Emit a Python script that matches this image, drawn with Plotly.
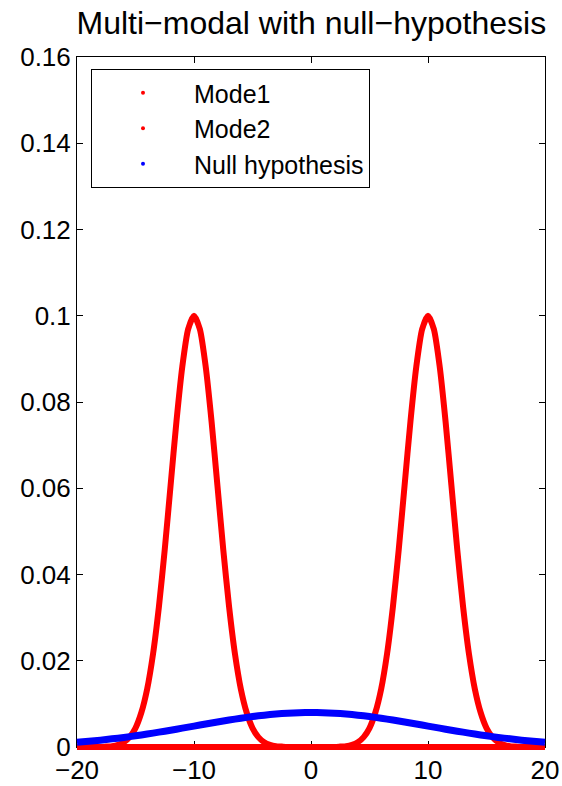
import plotly.graph_objects as go

# Values
mode1_x = [-20, -18.0, -17.5, -17.0, -16.5, -16.0, -15.5, -15.0, -14.5, -14.0, -13.5, -13.0, -12.5,
           -12.0, -11.5, -11.0, -10.5, -10.0, -9.5, -9.0, -8.5, -8.0, -7.5, -7.0, -6.5, -6.0,
           -5.5, -5.0, -4.5, -4.0, -3.5, -3.0, -2.5, -2.0, 20]
mode1_y = [0.0, 0.0, 0.0001, 0.0002, 0.0005, 0.0011, 0.0023, 0.0044, 0.0080, 0.0135, 0.0216, 0.0325, 0.0458,
           0.0607, 0.0755, 0.0882, 0.0969, 0.1000, 0.0969, 0.0882, 0.0755, 0.0607, 0.0458, 0.0325, 0.0216, 0.0135,
           0.0080, 0.0044, 0.0023, 0.0011, 0.0005, 0.0002, 0.0001, 0.0, 0.0]

mode2_x = [-20, 2.0, 2.5, 3.0, 3.5, 4.0, 4.5, 5.0, 5.5, 6.0, 6.5, 7.0, 7.5,
           8.0, 8.5, 9.0, 9.5, 10.0, 10.5, 11.0, 11.5, 12.0, 12.5, 13.0, 13.5, 14.0,
           14.5, 15.0, 15.5, 16.0, 16.5, 17.0, 17.5, 18.0, 20]
mode2_y = [0.0, 0.0, 0.0001, 0.0002, 0.0005, 0.0011, 0.0023, 0.0044, 0.0080, 0.0135, 0.0216, 0.0325, 0.0458,
           0.0607, 0.0755, 0.0882, 0.0969, 0.1000, 0.0969, 0.0882, 0.0755, 0.0607, 0.0458, 0.0325, 0.0216, 0.0135,
           0.0080, 0.0044, 0.0023, 0.0011, 0.0005, 0.0002, 0.0001, 0.0, 0.0]

null_x = [-20, -19, -18, -17, -16, -15, -14, -13, -12, -11, -10, -9, -8, -7, -6, -5, -4, -3, -2, -1, 0,
          1, 2, 3, 4, 5, 6, 7, 8, 9, 10, 11, 12, 13, 14, 15, 16, 17, 18, 19, 20]
null_y = [0.00108, 0.00132, 0.00158, 0.00189, 0.00222, 0.00260, 0.00300, 0.00344, 0.00389, 0.00437,
          0.00485, 0.00534, 0.00581, 0.00626, 0.00668, 0.00706, 0.00738, 0.00765, 0.00784, 0.00796, 0.00800,
          0.00796, 0.00784, 0.00765, 0.00738, 0.00706, 0.00668, 0.00626, 0.00581, 0.00534, 0.00485,
          0.00437, 0.00389, 0.00344, 0.00300, 0.00260, 0.00222, 0.00189, 0.00158, 0.00132, 0.00108]

series_names = ["Mode1", "Mode2", "Null hypothesis"]
x_ticks = [-20, -10, 0, 10, 20]
x_tick_labels = ["\u221220", "\u221210", "0", "10", "20"]
y_ticks = [0, 0.02, 0.04, 0.06, 0.08, 0.1, 0.12, 0.14, 0.16]
y_tick_labels = ["0", "0.02", "0.04", "0.06", "0.08", "0.1", "0.12", "0.14", "0.16"]

RED = "#ff0000"
BLUE = "#0000ff"
FONT = "Liberation Sans, Arial, Helvetica, sans-serif"

W, H = 562, 786
ML, MR, MT, MB = 70, 10, 50, 32
PAD = 7  # px of room around the axes so thick curves are not cut at the frame
pw, ph = W - ML - MR, H - MT - MB
X0, X1, Y0, Y1 = -20, 20, 0, 0.16
dx = (X1 - X0) / (pw - 2 * PAD) * PAD
dy = (Y1 - Y0) / (ph - 2 * PAD) * PAD

fig = go.Figure()
for xs, ys, col, lw in [(mode1_x, mode1_y, RED, 6), (mode2_x, mode2_y, RED, 6), (null_x, null_y, BLUE, 7)]:
    fig.add_trace(go.Scatter(x=xs, y=ys, mode="lines", xaxis="x2", yaxis="y2",
                             line=dict(color=col, width=lw, shape="spline", smoothing=0.6),
                             showlegend=False, hoverinfo="skip"))
# legend entries (dot markers, as in the reference)
for name, col in zip(series_names, [RED, RED, BLUE]):
    fig.add_trace(go.Scatter(x=[None], y=[None], mode="markers", name=name,
                             marker=dict(color=col, size=4)))

fig.update_layout(
    width=W, height=H,
    margin=dict(l=ML, r=MR, t=MT, b=MB, autoexpand=False),
    paper_bgcolor="white", plot_bgcolor="rgba(0,0,0,0)",
    font=dict(family=FONT, size=26, color="black"),
    title=dict(text="Multi\u2212modal with null\u2212hypothesis", x=0.554, xanchor="center",
               y=0.971, yanchor="middle", font=dict(size=32, family=FONT, color="black")),
    legend=dict(x=(91 - ML) / pw, y=1 - (69 - MT) / ph, xanchor="left", yanchor="top",
                bordercolor="black", borderwidth=1, bgcolor="white",
                font=dict(size=25, family=FONT), itemwidth=92, tracegroupgap=0),
    xaxis=dict(domain=[PAD / pw, 1 - PAD / pw], range=[X0, X1], tickvals=x_ticks, ticktext=x_tick_labels,
               ticks="inside", ticklen=6, tickcolor="black", showline=True, linecolor="black",
               linewidth=1, mirror="allticks", showgrid=False, zeroline=False, anchor="y",
               tickfont=dict(size=26), automargin=False),
    yaxis=dict(domain=[PAD / ph, 1 - PAD / ph], range=[Y0, Y1], tickvals=y_ticks, ticktext=y_tick_labels,
               ticks="inside", ticklen=6, tickcolor="black", showline=True, linecolor="black",
               linewidth=1, mirror="allticks", showgrid=False, zeroline=False, anchor="x",
               tickfont=dict(size=26), automargin=False),
    xaxis2=dict(domain=[0, 1], range=[X0 - dx, X1 + dx], visible=False, anchor="y2",
                showgrid=False, automargin=False),
    yaxis2=dict(domain=[0, 1], range=[Y0 - dy, Y1 + dy], visible=False, anchor="x2",
                showgrid=False, automargin=False),
)

fig.write_html("out.html")
